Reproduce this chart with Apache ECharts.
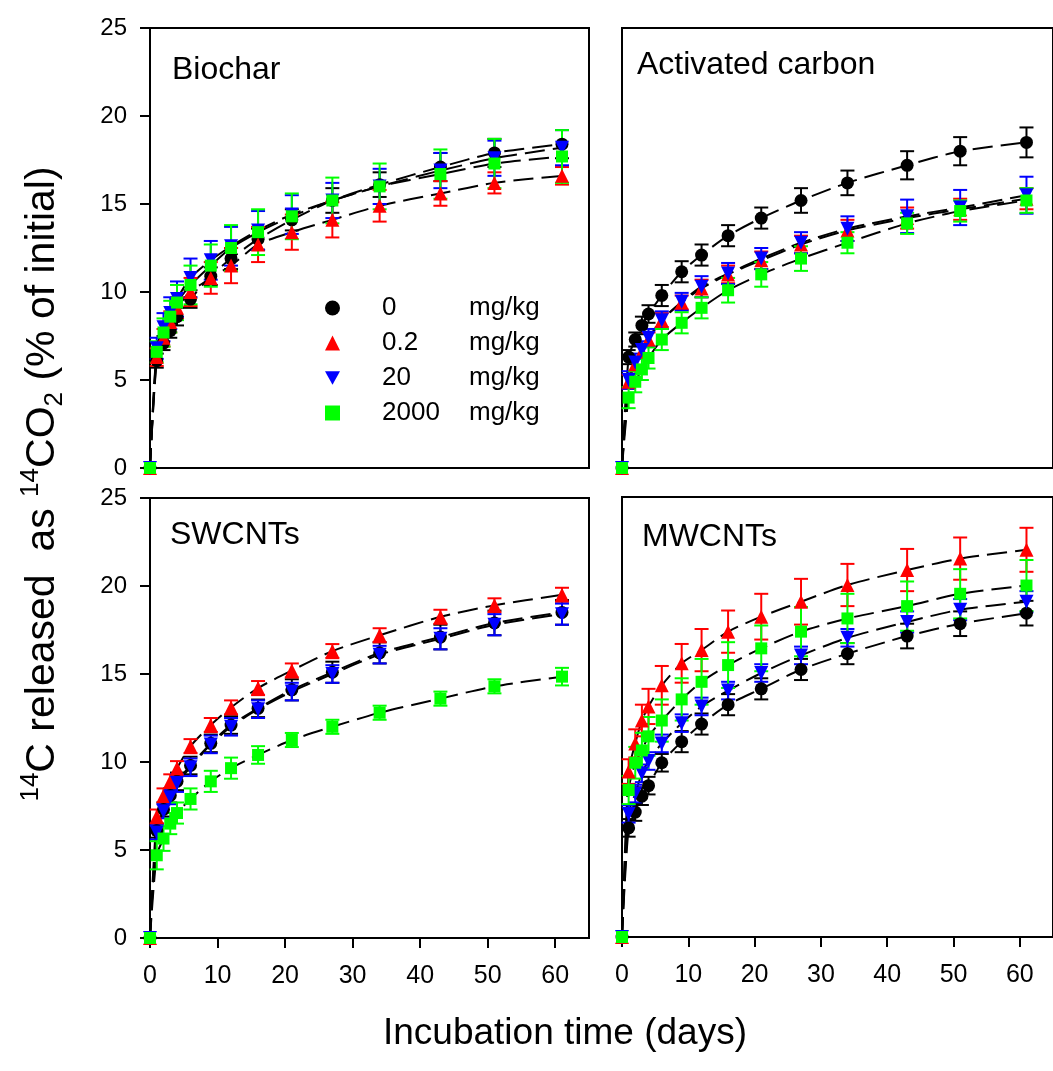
<!DOCTYPE html>
<html>
<head>
<meta charset="utf-8">
<script src="https://cdn.jsdelivr.net/npm/echarts@6/dist/echarts.min.js"></script>
<style>
  html, body { margin: 0; padding: 0; background: #fff; }
  #main { width: 1053px; height: 1071px; }
</style>
</head>
<body>
<div id="main"></div>
<script>
// sampling days
const days = [0, 1, 2, 3, 4, 6, 9, 12, 16, 21, 27, 34, 43, 51, 61];
const doses = ['0', '0.2', '20', '2000'];
const xTicks = [0, 10, 20, 30, 40, 50, 60];

// Biochar
const bc0 = [0, 6.1, 7.1, 7.8, 8.6, 9.6, 10.9, 11.9, 13.0, 14.1, 15.2, 16.1, 17.1, 17.9, 18.4];
const bc02 = [0, 6.3, 7.4, 8.3, 9.1, 10.0, 10.8, 11.5, 12.7, 13.4, 14.1, 14.9, 15.6, 16.2, 16.6];
const bc20 = [0, 6.8, 8.0, 8.8, 9.6, 10.8, 11.8, 12.6, 13.5, 14.4, 15.2, 16.0, 16.9, 17.6, 18.2];
const bc2000 = [0, 6.6, 7.7, 8.6, 9.4, 10.4, 11.5, 12.5, 13.4, 14.3, 15.2, 16.0, 16.7, 17.3, 17.7];
const bc0Err = [0, 0.4, 0.4, 0.4, 0.5, 0.5, 0.5, 0.6, 0.6, 0.6, 0.7, 0.7, 0.8, 0.8, 0.8];
const bc02Err = [0, 0.5, 0.5, 0.6, 0.6, 0.8, 0.9, 1.0, 1.0, 1.0, 1.0, 0.9, 0.7, 0.6, 0.5];
const bc20Err = [0, 0.6, 0.8, 0.9, 1.0, 1.1, 1.1, 1.1, 1.1, 1.1, 1.0, 1.0, 1.0, 1.0, 1.0];
const bc2000Err = [0, 0.6, 0.8, 0.9, 1.0, 1.1, 1.2, 1.3, 1.3, 1.3, 1.3, 1.3, 1.4, 1.4, 1.5];

// Activated carbon
const ac0 = [0, 6.3, 7.3, 8.1, 8.75, 9.8, 11.15, 12.1, 13.2, 14.2, 15.2, 16.2, 17.2, 18.0, 18.5];
const ac02 = [0, 4.9, 5.9, 6.6, 7.3, 8.4, 9.4, 10.2, 11.0, 11.8, 12.7, 13.5, 14.2, 14.7, 15.3];
const ac20 = [0, 5.0, 6.0, 6.7, 7.4, 8.4, 9.45, 10.3, 11.05, 11.9, 12.8, 13.6, 14.3, 14.8, 15.5];
const ac2000 = [0, 4.0, 4.9, 5.6, 6.25, 7.3, 8.25, 9.1, 10.1, 11.0, 11.9, 12.8, 13.9, 14.6, 15.2];
const ac0Err = [0, 0.4, 0.4, 0.5, 0.5, 0.6, 0.6, 0.6, 0.6, 0.6, 0.7, 0.7, 0.8, 0.8, 0.85];
const ac02Err = [0, 0.4, 0.4, 0.4, 0.4, 0.4, 0.4, 0.5, 0.5, 0.5, 0.5, 0.6, 0.6, 0.6, 0.6];
const ac20Err = [0, 0.5, 0.5, 0.5, 0.5, 0.5, 0.5, 0.6, 0.6, 0.6, 0.6, 0.7, 0.95, 1.0, 1.05];
const ac2000Err = [0, 0.6, 0.6, 0.6, 0.6, 0.6, 0.6, 0.6, 0.7, 0.7, 0.7, 0.6, 0.6, 0.6, 0.7];

// SWCNTs
const sw0 = [0, 6.1, 7.3, 8.1, 8.9, 9.8, 11.06, 12.1, 13.05, 14.1, 15.1, 16.2, 17.1, 17.9, 18.5];
const sw02 = [0, 6.9, 8.1, 8.9, 9.65, 10.9, 12.1, 13.1, 14.2, 15.2, 16.3, 17.2, 18.25, 18.9, 19.5];
const sw20 = [0, 6.0, 7.2, 8.0, 8.8, 9.7, 11.0, 12.0, 13.0, 14.0, 15.0, 16.1, 17.0, 17.8, 18.4];
const sw2000 = [0, 4.7, 5.65, 6.5, 7.1, 7.9, 8.9, 9.65, 10.4, 11.25, 12.0, 12.8, 13.6, 14.3, 14.85];
const sw0Err = [0, 0.4, 0.4, 0.4, 0.5, 0.5, 0.5, 0.5, 0.5, 0.6, 0.6, 0.6, 0.7, 0.7, 0.7];
const sw02Err = [0, 0.4, 0.4, 0.4, 0.4, 0.4, 0.4, 0.4, 0.4, 0.4, 0.4, 0.4, 0.4, 0.4, 0.4];
const sw20Err = [0, 0.4, 0.4, 0.4, 0.5, 0.5, 0.5, 0.5, 0.5, 0.5, 0.5, 0.5, 0.6, 0.6, 0.6];
const sw2000Err = [0, 0.8, 0.7, 0.6, 0.6, 0.6, 0.6, 0.6, 0.5, 0.4, 0.4, 0.4, 0.4, 0.4, 0.5];

// MWCNTs
const mw0 = [0, 6.2, 7.1, 8.0, 8.6, 9.9, 11.1, 12.1, 13.2, 14.1, 15.2, 16.1, 17.1, 17.8, 18.4];
const mw02 = [0, 9.4, 11.0, 12.3, 13.1, 14.3, 15.55, 16.3, 17.35, 18.2, 19.05, 20.0, 20.85, 21.5, 22.0];
const mw20 = [0, 7.0, 8.15, 9.3, 10.0, 11.0, 12.15, 13.1, 14.0, 15.0, 16.0, 17.0, 17.9, 18.6, 19.05];
const mw2000 = [0, 8.35, 9.9, 10.6, 11.4, 12.3, 13.5, 14.5, 15.45, 16.4, 17.35, 18.1, 18.8, 19.5, 19.97];
const mw0Err = [0, 0.5, 0.5, 0.5, 0.5, 0.5, 0.6, 0.6, 0.6, 0.6, 0.6, 0.6, 0.7, 0.7, 0.7];
const mw02Err = [0, 0.7, 0.8, 0.9, 1.0, 1.1, 1.1, 1.2, 1.2, 1.3, 1.3, 1.2, 1.2, 1.2, 1.25];
const mw20Err = [0, 0.5, 0.5, 0.5, 0.5, 0.5, 0.5, 0.5, 0.5, 0.5, 0.5, 0.5, 0.6, 0.6, 0.6];
const mw2000Err = [0, 0.8, 0.9, 1.0, 1.1, 1.2, 1.2, 1.3, 1.3, 1.3, 1.4, 1.4, 1.4, 1.4, 1.45];

const panels = [
  { title: 'Biochar', vals: [bc0, bc02, bc20, bc2000], errs: [bc0Err, bc02Err, bc20Err, bc2000Err] },
  { title: 'Activated carbon', vals: [ac0, ac02, ac20, ac2000], errs: [ac0Err, ac02Err, ac20Err, ac2000Err] },
  { title: 'SWCNTs', vals: [sw0, sw02, sw20, sw2000], errs: [sw0Err, sw02Err, sw20Err, sw2000Err] },
  { title: 'MWCNTs', vals: [mw0, mw02, mw20, mw2000], errs: [mw0Err, mw02Err, mw20Err, mw2000Err] }
];

const FONT = '"Liberation Sans", Arial, sans-serif';
const colors = ['#000000', '#ff0000', '#0000ff', '#00ff00'];
const symbols = ['circle', 'triangle', 'path://M0,0L10,0L5,9Z', 'rect'];
const symSizes = [13, 14, 14, 12];

// frame boxes: [left, top]
const boxes = [[150, 28], [622, 28], [150, 498], [622, 497]];
const titlePos = [[167, 49], [632, 44], [165, 514], [637, 516]];

const chart = echarts.init(document.getElementById('main'));

const grids = [], xAxes = [], yAxes = [], series = [], titles = [];
panels.forEach((p, i) => {
  const bottomRow = i >= 2, leftCol = i % 2 === 0;
  grids.push({
    left: boxes[i][0], top: boxes[i][1], width: 439, height: 440,
    show: true, borderColor: '#000', borderWidth: 2, backgroundColor: 'transparent'
  });
  titles.push({
    text: p.title, left: titlePos[i][0], top: titlePos[i][1],
    textStyle: { fontFamily: FONT, fontSize: 32, fontWeight: 'normal', color: '#000' }
  });
  xAxes.push({
    gridIndex: i, type: 'value', min: 0, max: 65,
    axisLine: { show: true, lineStyle: { color: '#000', width: 2 } },
    axisTick: { show: bottomRow, customValues: xTicks, length: 10, lineStyle: { color: '#000', width: 2 } },
    axisLabel: { show: bottomRow, customValues: xTicks, fontSize: 25, color: '#000', fontFamily: FONT, margin: 26 },
    splitLine: { show: false }
  });
  yAxes.push({
    gridIndex: i, type: 'value', min: 0, max: 25, interval: 5,
    axisLine: { show: true, lineStyle: { color: '#000', width: 2 } },
    axisTick: { show: leftCol, length: 10, lineStyle: { color: '#000', width: 2 } },
    axisLabel: { show: leftCol, fontSize: 24, color: '#000', fontFamily: FONT, margin: 23 },
    splitLine: { show: false }
  });

  // dashed fitted curves
  p.vals.forEach((v, j) => {
    series.push({
      type: 'line', xAxisIndex: i, yAxisIndex: i, silent: true,
      data: days.map((d, k) => [d, v[k]]),
      smooth: 0.25, symbol: 'none', z: 1,
      lineStyle: { color: '#000', width: 2, type: [20, 8] }
    });
  });

  p.vals.forEach((v, j) => {
    const e = p.errs[j];
    series.push({
      type: 'custom', xAxisIndex: i, yAxisIndex: i, silent: true, z: 2,
      itemStyle: { color: colors[j] },
      encode: { x: 0, y: [1, 2] },
      data: days.map((d, k) => [d, v[k] - e[k], v[k] + e[k]]).filter((r, k) => e[k] > 0),
      renderItem: function (params, api) {
        const x = api.value(0);
        const lo = api.coord([x, api.value(1)]);
        const hi = api.coord([x, api.value(2)]);
        const w = 7;
        const st = { stroke: colors[j], lineWidth: 2 };
        return {
          type: 'group',
          children: [
            { type: 'line', shape: { x1: lo[0], y1: lo[1], x2: hi[0], y2: hi[1] }, style: st },
            { type: 'line', shape: { x1: lo[0] - w, y1: lo[1], x2: lo[0] + w, y2: lo[1] }, style: st },
            { type: 'line', shape: { x1: hi[0] - w, y1: hi[1], x2: hi[0] + w, y2: hi[1] }, style: st }
          ]
        };
      }
    });
    series.push({
      name: doses[j], type: 'scatter', xAxisIndex: i, yAxisIndex: i, z: 2, clip: false,
      symbol: symbols[j], symbolSize: symSizes[j],
      itemStyle: { color: colors[j], opacity: 1 },
      data: days.map((d, k) => [d, v[k]])
    });
  });
});

chart.setOption({
  backgroundColor: '#fff',
  animation: false,
  textStyle: { fontFamily: FONT },
  title: titles,
  grid: grids,
  xAxis: xAxes,
  yAxis: yAxes,
  legend: {
    data: doses,
    orient: 'vertical',
    left: 320, top: 290,
    itemWidth: 15, itemHeight: 15, itemGap: 9,
    selectedMode: false,
    formatter: name => '{s| }{a|' + name + '}{b|mg/kg}',
    textStyle: {
      color: '#000', fontFamily: FONT, fontSize: 26,
      rich: {
        s: { width: 37, fontSize: 26 },
        a: { width: 87, fontSize: 26, fontFamily: FONT, color: '#000' },
        b: { fontSize: 26, fontFamily: FONT, color: '#000' }
      }
    }
  },
  graphic: [
    {
      type: 'text', x: 43, y: 484, rotation: Math.PI / 2,
      style: {
        text: '{sup|14}{m|C released  as }{sup|14}{m|CO}{sub|2}{m| (% of initial)}',
        rich: {
          m: { fontSize: 41, fontFamily: FONT, fill: '#000', lineHeight: 50 },
          sup: { fontSize: 26, fontFamily: FONT, fill: '#000', verticalAlign: 'top', lineHeight: 50, padding: [0, 0, 18, 0] },
          sub: { fontSize: 26, fontFamily: FONT, fill: '#000', verticalAlign: 'bottom', lineHeight: 50, padding: [14, 0, 0, 0] }
        },
        align: 'center', verticalAlign: 'middle',
        textAlign: 'center', textVerticalAlign: 'middle'
      }
    },
    {
      type: 'text', x: 565, y: 1034,
      style: {
        text: 'Incubation time (days)',
        fontSize: 37, fontFamily: FONT, fill: '#000',
        align: 'center', verticalAlign: 'middle',
        textAlign: 'center', textVerticalAlign: 'middle'
      }
    }
  ],
  series: series
});
</script>
</body>
</html>
